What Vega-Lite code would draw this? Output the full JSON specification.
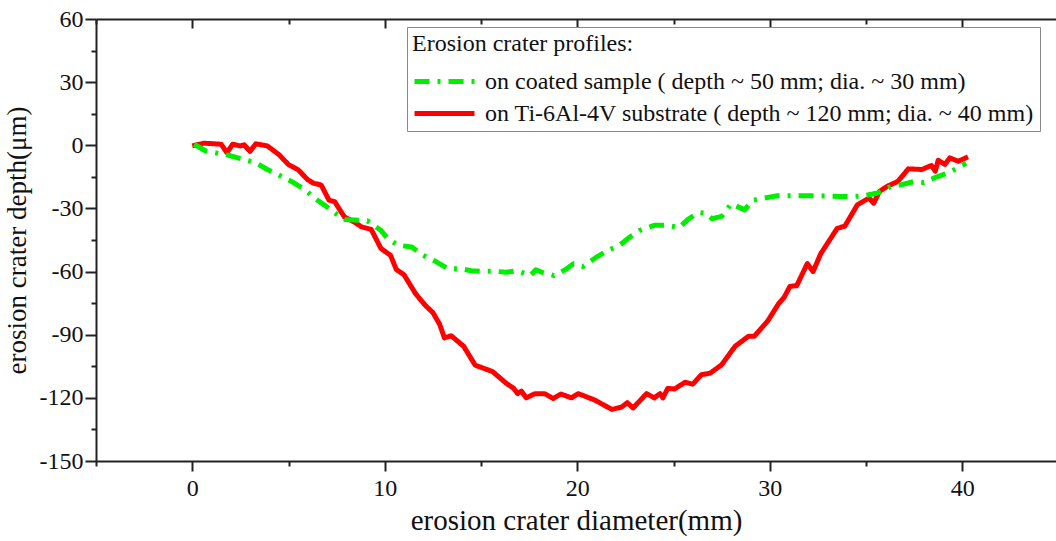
{
  "$schema": "https://vega.github.io/schema/vega-lite/v6.json",
  "width": 960,
  "height": 442,
  "autosize": "none",
  "padding": {"left": 96, "top": 19, "right": 0, "bottom": 80},
  "background": "white",
  "config": {
    "view": {"stroke": null},
    "font": "Liberation Serif",
    "axis": {
      "domainColor": "#222",
      "domainWidth": 2,
      "tickColor": "#222",
      "tickWidth": 2,
      "labelFont": "Liberation Serif",
      "labelFontSize": 24,
      "labelColor": "#111",
      "titleFont": "Liberation Serif",
      "titleFontWeight": "normal",
      "titleColor": "#111",
      "grid": false,
      "labelOverlap": false,
      "labelFlush": false
    },
    "legend": {
      "titleFont": "Liberation Serif",
      "titleFontSize": 24,
      "titleFontWeight": "normal",
      "titleColor": "#111",
      "titleLimit": 800,
      "labelFont": "Liberation Serif",
      "labelFontSize": 24,
      "labelColor": "#111",
      "labelLimit": 800,
      "symbolType": "M-1,0L3,0",
      "symbolSize": 900,
      "symbolStrokeWidth": 5,
      "strokeColor": "#888",
      "fillColor": "white",
      "padding": 5,
      "rowPadding": 2,
      "titlePadding": 8,
      "labelOffset": 38
    }
  },
  "data": {
    "values": [
      {"series": "on Ti-6Al-4V substrate ( depth ~ 120 mm; dia. ~ 40 mm)", "x": 0.0, "y": -0.3},
      {"series": "on Ti-6Al-4V substrate ( depth ~ 120 mm; dia. ~ 40 mm)", "x": 0.6, "y": 1.0},
      {"series": "on Ti-6Al-4V substrate ( depth ~ 120 mm; dia. ~ 40 mm)", "x": 1.5, "y": 0.5},
      {"series": "on Ti-6Al-4V substrate ( depth ~ 120 mm; dia. ~ 40 mm)", "x": 1.8, "y": -3.5},
      {"series": "on Ti-6Al-4V substrate ( depth ~ 120 mm; dia. ~ 40 mm)", "x": 2.1, "y": 0.5},
      {"series": "on Ti-6Al-4V substrate ( depth ~ 120 mm; dia. ~ 40 mm)", "x": 2.5, "y": -0.3},
      {"series": "on Ti-6Al-4V substrate ( depth ~ 120 mm; dia. ~ 40 mm)", "x": 2.7, "y": 0.2},
      {"series": "on Ti-6Al-4V substrate ( depth ~ 120 mm; dia. ~ 40 mm)", "x": 3.0, "y": -2.9},
      {"series": "on Ti-6Al-4V substrate ( depth ~ 120 mm; dia. ~ 40 mm)", "x": 3.3, "y": 0.7},
      {"series": "on Ti-6Al-4V substrate ( depth ~ 120 mm; dia. ~ 40 mm)", "x": 3.9, "y": -0.3},
      {"series": "on Ti-6Al-4V substrate ( depth ~ 120 mm; dia. ~ 40 mm)", "x": 4.5, "y": -4.4},
      {"series": "on Ti-6Al-4V substrate ( depth ~ 120 mm; dia. ~ 40 mm)", "x": 5.0, "y": -9.2},
      {"series": "on Ti-6Al-4V substrate ( depth ~ 120 mm; dia. ~ 40 mm)", "x": 5.5, "y": -11.6},
      {"series": "on Ti-6Al-4V substrate ( depth ~ 120 mm; dia. ~ 40 mm)", "x": 6.0, "y": -16.4},
      {"series": "on Ti-6Al-4V substrate ( depth ~ 120 mm; dia. ~ 40 mm)", "x": 6.3, "y": -18.0},
      {"series": "on Ti-6Al-4V substrate ( depth ~ 120 mm; dia. ~ 40 mm)", "x": 6.7, "y": -18.9},
      {"series": "on Ti-6Al-4V substrate ( depth ~ 120 mm; dia. ~ 40 mm)", "x": 7.1, "y": -26.0},
      {"series": "on Ti-6Al-4V substrate ( depth ~ 120 mm; dia. ~ 40 mm)", "x": 7.4, "y": -26.8},
      {"series": "on Ti-6Al-4V substrate ( depth ~ 120 mm; dia. ~ 40 mm)", "x": 7.9, "y": -34.0},
      {"series": "on Ti-6Al-4V substrate ( depth ~ 120 mm; dia. ~ 40 mm)", "x": 8.4, "y": -36.4},
      {"series": "on Ti-6Al-4V substrate ( depth ~ 120 mm; dia. ~ 40 mm)", "x": 8.8, "y": -38.8},
      {"series": "on Ti-6Al-4V substrate ( depth ~ 120 mm; dia. ~ 40 mm)", "x": 9.3, "y": -40.0},
      {"series": "on Ti-6Al-4V substrate ( depth ~ 120 mm; dia. ~ 40 mm)", "x": 9.8, "y": -49.0},
      {"series": "on Ti-6Al-4V substrate ( depth ~ 120 mm; dia. ~ 40 mm)", "x": 10.3, "y": -52.3},
      {"series": "on Ti-6Al-4V substrate ( depth ~ 120 mm; dia. ~ 40 mm)", "x": 10.6, "y": -59.0},
      {"series": "on Ti-6Al-4V substrate ( depth ~ 120 mm; dia. ~ 40 mm)", "x": 11.0, "y": -61.5},
      {"series": "on Ti-6Al-4V substrate ( depth ~ 120 mm; dia. ~ 40 mm)", "x": 11.6, "y": -70.5},
      {"series": "on Ti-6Al-4V substrate ( depth ~ 120 mm; dia. ~ 40 mm)", "x": 12.1, "y": -76.0},
      {"series": "on Ti-6Al-4V substrate ( depth ~ 120 mm; dia. ~ 40 mm)", "x": 12.5, "y": -79.5},
      {"series": "on Ti-6Al-4V substrate ( depth ~ 120 mm; dia. ~ 40 mm)", "x": 12.85, "y": -85.0},
      {"series": "on Ti-6Al-4V substrate ( depth ~ 120 mm; dia. ~ 40 mm)", "x": 13.1, "y": -91.5},
      {"series": "on Ti-6Al-4V substrate ( depth ~ 120 mm; dia. ~ 40 mm)", "x": 13.45, "y": -90.5},
      {"series": "on Ti-6Al-4V substrate ( depth ~ 120 mm; dia. ~ 40 mm)", "x": 14.1, "y": -95.5},
      {"series": "on Ti-6Al-4V substrate ( depth ~ 120 mm; dia. ~ 40 mm)", "x": 14.7, "y": -104.5},
      {"series": "on Ti-6Al-4V substrate ( depth ~ 120 mm; dia. ~ 40 mm)", "x": 15.6, "y": -107.5},
      {"series": "on Ti-6Al-4V substrate ( depth ~ 120 mm; dia. ~ 40 mm)", "x": 16.3, "y": -113.0},
      {"series": "on Ti-6Al-4V substrate ( depth ~ 120 mm; dia. ~ 40 mm)", "x": 16.7, "y": -115.5},
      {"series": "on Ti-6Al-4V substrate ( depth ~ 120 mm; dia. ~ 40 mm)", "x": 16.9, "y": -118.0},
      {"series": "on Ti-6Al-4V substrate ( depth ~ 120 mm; dia. ~ 40 mm)", "x": 17.1, "y": -116.8},
      {"series": "on Ti-6Al-4V substrate ( depth ~ 120 mm; dia. ~ 40 mm)", "x": 17.35, "y": -120.0},
      {"series": "on Ti-6Al-4V substrate ( depth ~ 120 mm; dia. ~ 40 mm)", "x": 17.8, "y": -118.0},
      {"series": "on Ti-6Al-4V substrate ( depth ~ 120 mm; dia. ~ 40 mm)", "x": 18.3, "y": -118.0},
      {"series": "on Ti-6Al-4V substrate ( depth ~ 120 mm; dia. ~ 40 mm)", "x": 18.75, "y": -120.3},
      {"series": "on Ti-6Al-4V substrate ( depth ~ 120 mm; dia. ~ 40 mm)", "x": 19.15, "y": -118.2},
      {"series": "on Ti-6Al-4V substrate ( depth ~ 120 mm; dia. ~ 40 mm)", "x": 19.7, "y": -120.0},
      {"series": "on Ti-6Al-4V substrate ( depth ~ 120 mm; dia. ~ 40 mm)", "x": 20.05, "y": -118.0},
      {"series": "on Ti-6Al-4V substrate ( depth ~ 120 mm; dia. ~ 40 mm)", "x": 20.9, "y": -121.0},
      {"series": "on Ti-6Al-4V substrate ( depth ~ 120 mm; dia. ~ 40 mm)", "x": 21.8, "y": -125.5},
      {"series": "on Ti-6Al-4V substrate ( depth ~ 120 mm; dia. ~ 40 mm)", "x": 22.3, "y": -124.4},
      {"series": "on Ti-6Al-4V substrate ( depth ~ 120 mm; dia. ~ 40 mm)", "x": 22.6, "y": -122.3},
      {"series": "on Ti-6Al-4V substrate ( depth ~ 120 mm; dia. ~ 40 mm)", "x": 22.9, "y": -124.8},
      {"series": "on Ti-6Al-4V substrate ( depth ~ 120 mm; dia. ~ 40 mm)", "x": 23.6, "y": -118.0},
      {"series": "on Ti-6Al-4V substrate ( depth ~ 120 mm; dia. ~ 40 mm)", "x": 24.0, "y": -120.0},
      {"series": "on Ti-6Al-4V substrate ( depth ~ 120 mm; dia. ~ 40 mm)", "x": 24.3, "y": -118.0},
      {"series": "on Ti-6Al-4V substrate ( depth ~ 120 mm; dia. ~ 40 mm)", "x": 24.45, "y": -120.0},
      {"series": "on Ti-6Al-4V substrate ( depth ~ 120 mm; dia. ~ 40 mm)", "x": 24.7, "y": -115.5},
      {"series": "on Ti-6Al-4V substrate ( depth ~ 120 mm; dia. ~ 40 mm)", "x": 25.05, "y": -115.8},
      {"series": "on Ti-6Al-4V substrate ( depth ~ 120 mm; dia. ~ 40 mm)", "x": 25.6, "y": -112.6},
      {"series": "on Ti-6Al-4V substrate ( depth ~ 120 mm; dia. ~ 40 mm)", "x": 26.0, "y": -113.5},
      {"series": "on Ti-6Al-4V substrate ( depth ~ 120 mm; dia. ~ 40 mm)", "x": 26.45, "y": -109.0},
      {"series": "on Ti-6Al-4V substrate ( depth ~ 120 mm; dia. ~ 40 mm)", "x": 26.9, "y": -108.3},
      {"series": "on Ti-6Al-4V substrate ( depth ~ 120 mm; dia. ~ 40 mm)", "x": 27.5, "y": -104.3},
      {"series": "on Ti-6Al-4V substrate ( depth ~ 120 mm; dia. ~ 40 mm)", "x": 28.2, "y": -95.5},
      {"series": "on Ti-6Al-4V substrate ( depth ~ 120 mm; dia. ~ 40 mm)", "x": 28.9, "y": -90.7},
      {"series": "on Ti-6Al-4V substrate ( depth ~ 120 mm; dia. ~ 40 mm)", "x": 29.2, "y": -90.7},
      {"series": "on Ti-6Al-4V substrate ( depth ~ 120 mm; dia. ~ 40 mm)", "x": 29.9, "y": -83.4},
      {"series": "on Ti-6Al-4V substrate ( depth ~ 120 mm; dia. ~ 40 mm)", "x": 30.45, "y": -75.4},
      {"series": "on Ti-6Al-4V substrate ( depth ~ 120 mm; dia. ~ 40 mm)", "x": 30.75, "y": -72.2},
      {"series": "on Ti-6Al-4V substrate ( depth ~ 120 mm; dia. ~ 40 mm)", "x": 31.05, "y": -67.0},
      {"series": "on Ti-6Al-4V substrate ( depth ~ 120 mm; dia. ~ 40 mm)", "x": 31.4, "y": -66.7},
      {"series": "on Ti-6Al-4V substrate ( depth ~ 120 mm; dia. ~ 40 mm)", "x": 31.95, "y": -56.2},
      {"series": "on Ti-6Al-4V substrate ( depth ~ 120 mm; dia. ~ 40 mm)", "x": 32.25, "y": -60.0},
      {"series": "on Ti-6Al-4V substrate ( depth ~ 120 mm; dia. ~ 40 mm)", "x": 32.65, "y": -51.5},
      {"series": "on Ti-6Al-4V substrate ( depth ~ 120 mm; dia. ~ 40 mm)", "x": 33.5, "y": -39.5},
      {"series": "on Ti-6Al-4V substrate ( depth ~ 120 mm; dia. ~ 40 mm)", "x": 33.9, "y": -38.4},
      {"series": "on Ti-6Al-4V substrate ( depth ~ 120 mm; dia. ~ 40 mm)", "x": 34.55, "y": -28.3},
      {"series": "on Ti-6Al-4V substrate ( depth ~ 120 mm; dia. ~ 40 mm)", "x": 35.15, "y": -25.1},
      {"series": "on Ti-6Al-4V substrate ( depth ~ 120 mm; dia. ~ 40 mm)", "x": 35.4, "y": -27.5},
      {"series": "on Ti-6Al-4V substrate ( depth ~ 120 mm; dia. ~ 40 mm)", "x": 35.7, "y": -21.9},
      {"series": "on Ti-6Al-4V substrate ( depth ~ 120 mm; dia. ~ 40 mm)", "x": 36.1, "y": -19.5},
      {"series": "on Ti-6Al-4V substrate ( depth ~ 120 mm; dia. ~ 40 mm)", "x": 36.65, "y": -17.2},
      {"series": "on Ti-6Al-4V substrate ( depth ~ 120 mm; dia. ~ 40 mm)", "x": 37.2, "y": -11.2},
      {"series": "on Ti-6Al-4V substrate ( depth ~ 120 mm; dia. ~ 40 mm)", "x": 37.9, "y": -11.5},
      {"series": "on Ti-6Al-4V substrate ( depth ~ 120 mm; dia. ~ 40 mm)", "x": 38.4, "y": -9.6},
      {"series": "on Ti-6Al-4V substrate ( depth ~ 120 mm; dia. ~ 40 mm)", "x": 38.6, "y": -12.3},
      {"series": "on Ti-6Al-4V substrate ( depth ~ 120 mm; dia. ~ 40 mm)", "x": 38.75, "y": -7.1},
      {"series": "on Ti-6Al-4V substrate ( depth ~ 120 mm; dia. ~ 40 mm)", "x": 39.1, "y": -9.1},
      {"series": "on Ti-6Al-4V substrate ( depth ~ 120 mm; dia. ~ 40 mm)", "x": 39.35, "y": -6.0},
      {"series": "on Ti-6Al-4V substrate ( depth ~ 120 mm; dia. ~ 40 mm)", "x": 39.8, "y": -7.6},
      {"series": "on Ti-6Al-4V substrate ( depth ~ 120 mm; dia. ~ 40 mm)", "x": 40.3, "y": -5.5},
      {"series": "on coated sample ( depth ~ 50 mm; dia. ~ 30 mm)", "x": 0.1, "y": 0.5},
      {"series": "on coated sample ( depth ~ 50 mm; dia. ~ 30 mm)", "x": 0.7, "y": -2.7},
      {"series": "on coated sample ( depth ~ 50 mm; dia. ~ 30 mm)", "x": 2.0, "y": -5.0},
      {"series": "on coated sample ( depth ~ 50 mm; dia. ~ 30 mm)", "x": 2.6, "y": -6.6},
      {"series": "on coated sample ( depth ~ 50 mm; dia. ~ 30 mm)", "x": 3.3, "y": -8.3},
      {"series": "on coated sample ( depth ~ 50 mm; dia. ~ 30 mm)", "x": 3.9, "y": -11.5},
      {"series": "on coated sample ( depth ~ 50 mm; dia. ~ 30 mm)", "x": 4.45, "y": -13.9},
      {"series": "on coated sample ( depth ~ 50 mm; dia. ~ 30 mm)", "x": 5.15, "y": -17.2},
      {"series": "on coated sample ( depth ~ 50 mm; dia. ~ 30 mm)", "x": 5.85, "y": -21.1},
      {"series": "on coated sample ( depth ~ 50 mm; dia. ~ 30 mm)", "x": 6.35, "y": -25.1},
      {"series": "on coated sample ( depth ~ 50 mm; dia. ~ 30 mm)", "x": 6.85, "y": -28.3},
      {"series": "on coated sample ( depth ~ 50 mm; dia. ~ 30 mm)", "x": 7.55, "y": -33.1},
      {"series": "on coated sample ( depth ~ 50 mm; dia. ~ 30 mm)", "x": 7.95, "y": -35.3},
      {"series": "on coated sample ( depth ~ 50 mm; dia. ~ 30 mm)", "x": 9.1, "y": -35.9},
      {"series": "on coated sample ( depth ~ 50 mm; dia. ~ 30 mm)", "x": 9.8, "y": -40.4},
      {"series": "on coated sample ( depth ~ 50 mm; dia. ~ 30 mm)", "x": 10.15, "y": -44.3},
      {"series": "on coated sample ( depth ~ 50 mm; dia. ~ 30 mm)", "x": 10.7, "y": -47.5},
      {"series": "on coated sample ( depth ~ 50 mm; dia. ~ 30 mm)", "x": 11.4, "y": -48.3},
      {"series": "on coated sample ( depth ~ 50 mm; dia. ~ 30 mm)", "x": 12.0, "y": -52.3},
      {"series": "on coated sample ( depth ~ 50 mm; dia. ~ 30 mm)", "x": 12.7, "y": -55.5},
      {"series": "on coated sample ( depth ~ 50 mm; dia. ~ 30 mm)", "x": 13.3, "y": -58.7},
      {"series": "on coated sample ( depth ~ 50 mm; dia. ~ 30 mm)", "x": 14.0, "y": -58.7},
      {"series": "on coated sample ( depth ~ 50 mm; dia. ~ 30 mm)", "x": 14.5, "y": -59.6},
      {"series": "on coated sample ( depth ~ 50 mm; dia. ~ 30 mm)", "x": 14.95, "y": -59.8},
      {"series": "on coated sample ( depth ~ 50 mm; dia. ~ 30 mm)", "x": 15.6, "y": -59.8},
      {"series": "on coated sample ( depth ~ 50 mm; dia. ~ 30 mm)", "x": 16.3, "y": -60.3},
      {"series": "on coated sample ( depth ~ 50 mm; dia. ~ 30 mm)", "x": 16.9, "y": -59.6},
      {"series": "on coated sample ( depth ~ 50 mm; dia. ~ 30 mm)", "x": 17.55, "y": -61.9},
      {"series": "on coated sample ( depth ~ 50 mm; dia. ~ 30 mm)", "x": 17.85, "y": -59.2},
      {"series": "on coated sample ( depth ~ 50 mm; dia. ~ 30 mm)", "x": 18.3, "y": -60.8},
      {"series": "on coated sample ( depth ~ 50 mm; dia. ~ 30 mm)", "x": 18.8, "y": -61.9},
      {"series": "on coated sample ( depth ~ 50 mm; dia. ~ 30 mm)", "x": 19.45, "y": -58.7},
      {"series": "on coated sample ( depth ~ 50 mm; dia. ~ 30 mm)", "x": 19.8, "y": -56.3},
      {"series": "on coated sample ( depth ~ 50 mm; dia. ~ 30 mm)", "x": 20.3, "y": -57.6},
      {"series": "on coated sample ( depth ~ 50 mm; dia. ~ 30 mm)", "x": 20.95, "y": -53.4},
      {"series": "on coated sample ( depth ~ 50 mm; dia. ~ 30 mm)", "x": 21.6, "y": -49.9},
      {"series": "on coated sample ( depth ~ 50 mm; dia. ~ 30 mm)", "x": 22.2, "y": -47.5},
      {"series": "on coated sample ( depth ~ 50 mm; dia. ~ 30 mm)", "x": 22.7, "y": -43.8},
      {"series": "on coated sample ( depth ~ 50 mm; dia. ~ 30 mm)", "x": 23.25, "y": -40.4},
      {"series": "on coated sample ( depth ~ 50 mm; dia. ~ 30 mm)", "x": 24.0, "y": -38.0},
      {"series": "on coated sample ( depth ~ 50 mm; dia. ~ 30 mm)", "x": 24.6, "y": -38.0},
      {"series": "on coated sample ( depth ~ 50 mm; dia. ~ 30 mm)", "x": 25.3, "y": -39.1},
      {"series": "on coated sample ( depth ~ 50 mm; dia. ~ 30 mm)", "x": 25.75, "y": -35.2},
      {"series": "on coated sample ( depth ~ 50 mm; dia. ~ 30 mm)", "x": 26.3, "y": -31.9},
      {"series": "on coated sample ( depth ~ 50 mm; dia. ~ 30 mm)", "x": 26.7, "y": -32.4},
      {"series": "on coated sample ( depth ~ 50 mm; dia. ~ 30 mm)", "x": 27.0, "y": -34.9},
      {"series": "on coated sample ( depth ~ 50 mm; dia. ~ 30 mm)", "x": 27.5, "y": -33.8},
      {"series": "on coated sample ( depth ~ 50 mm; dia. ~ 30 mm)", "x": 28.0, "y": -27.8},
      {"series": "on coated sample ( depth ~ 50 mm; dia. ~ 30 mm)", "x": 28.7, "y": -30.7},
      {"series": "on coated sample ( depth ~ 50 mm; dia. ~ 30 mm)", "x": 29.1, "y": -26.2},
      {"series": "on coated sample ( depth ~ 50 mm; dia. ~ 30 mm)", "x": 29.7, "y": -25.1},
      {"series": "on coated sample ( depth ~ 50 mm; dia. ~ 30 mm)", "x": 30.4, "y": -24.0},
      {"series": "on coated sample ( depth ~ 50 mm; dia. ~ 30 mm)", "x": 31.6, "y": -24.0},
      {"series": "on coated sample ( depth ~ 50 mm; dia. ~ 30 mm)", "x": 32.6, "y": -24.0},
      {"series": "on coated sample ( depth ~ 50 mm; dia. ~ 30 mm)", "x": 33.7, "y": -24.3},
      {"series": "on coated sample ( depth ~ 50 mm; dia. ~ 30 mm)", "x": 34.4, "y": -24.3},
      {"series": "on coated sample ( depth ~ 50 mm; dia. ~ 30 mm)", "x": 34.9, "y": -24.0},
      {"series": "on coated sample ( depth ~ 50 mm; dia. ~ 30 mm)", "x": 35.6, "y": -22.7},
      {"series": "on coated sample ( depth ~ 50 mm; dia. ~ 30 mm)", "x": 36.3, "y": -19.5},
      {"series": "on coated sample ( depth ~ 50 mm; dia. ~ 30 mm)", "x": 36.8, "y": -18.8},
      {"series": "on coated sample ( depth ~ 50 mm; dia. ~ 30 mm)", "x": 37.5, "y": -17.2},
      {"series": "on coated sample ( depth ~ 50 mm; dia. ~ 30 mm)", "x": 38.0, "y": -17.7},
      {"series": "on coated sample ( depth ~ 50 mm; dia. ~ 30 mm)", "x": 38.65, "y": -15.1},
      {"series": "on coated sample ( depth ~ 50 mm; dia. ~ 30 mm)", "x": 39.25, "y": -13.2},
      {"series": "on coated sample ( depth ~ 50 mm; dia. ~ 30 mm)", "x": 39.9, "y": -10.1},
      {"series": "on coated sample ( depth ~ 50 mm; dia. ~ 30 mm)", "x": 40.2, "y": -8.5}
    ]
  },
  "layer": [
    {
      "mark": {"type": "line", "strokeWidth": 5, "strokeJoin": "round", "clip": true},
      "encoding": {
        "x": {
          "field": "x", "type": "quantitative",
          "scale": {"domain": [-5, 44.87], "nice": false, "zero": false},
          "axis": {
            "orient": "bottom",
            "title": "erosion crater diameter(mm)",
            "titleFontSize": 29,
            "values": [-5, 0, 5, 10, 15, 20, 25, 30, 35, 40],
            "tickSize": {"condition": {"test": "datum.value % 10 === 0", "value": 10}, "value": 5},
            "labelExpr": "datum.value % 10 === 0 ? datum.label : ''",
            "labelPadding": 5,
            "titlePadding": 6
          }
        },
        "y": {
          "field": "y", "type": "quantitative",
          "scale": {"domain": [-150, 60], "nice": false, "zero": false},
          "axis": {
            "title": "erosion crater depth(μm)",
            "titleFontSize": 27,
            "values": [-150, -135, -120, -105, -90, -75, -60, -45, -30, -15, 0, 15, 30, 45, 60],
            "tickSize": {"condition": {"test": "datum.value % 30 === 0", "value": 11}, "value": 5},
            "labelExpr": "datum.value % 30 === 0 ? replace(datum.label, '−', '-') : ''",
            "labelPadding": 2,
            "titlePadding": 8
          }
        },
        "color": {
          "field": "series", "type": "nominal",
          "scale": {
            "domain": ["on coated sample ( depth ~ 50 mm; dia. ~ 30 mm)", "on Ti-6Al-4V substrate ( depth ~ 120 mm; dia. ~ 40 mm)"],
            "range": ["#00ee00", "#ff0000"]
          },
          "legend": {
            "title": "Erosion crater profiles:",
            "orient": "none",
            "legendX": 311,
            "legendY": 8
          }
        },
        "strokeDash": {
          "field": "series", "type": "nominal",
          "scale": {
            "domain": ["on coated sample ( depth ~ 50 mm; dia. ~ 30 mm)", "on Ti-6Al-4V substrate ( depth ~ 120 mm; dia. ~ 40 mm)"],
            "range": [[15, 8, 3, 8], [1, 0]]
          },
          "legend": {
            "title": "Erosion crater profiles:",
            "orient": "none",
            "legendX": 311,
            "legendY": 8
          }
        }
      }
    },
    {
      "mark": {"type": "line", "opacity": 0},
      "encoding": {
        "x": {
          "field": "x", "type": "quantitative",
          "axis": {
            "orient": "top",
            "title": null,
            "labels": false,
            "values": [-5, 0, 5, 10, 15, 20, 25, 30, 35, 40],
            "tickSize": {"condition": {"test": "datum.value % 10 === 0", "value": -9}, "value": -5}
          }
        },
        "detail": {"field": "series"}
      }
    }
  ],
  "resolve": {"axis": {"x": "independent"}}
}
